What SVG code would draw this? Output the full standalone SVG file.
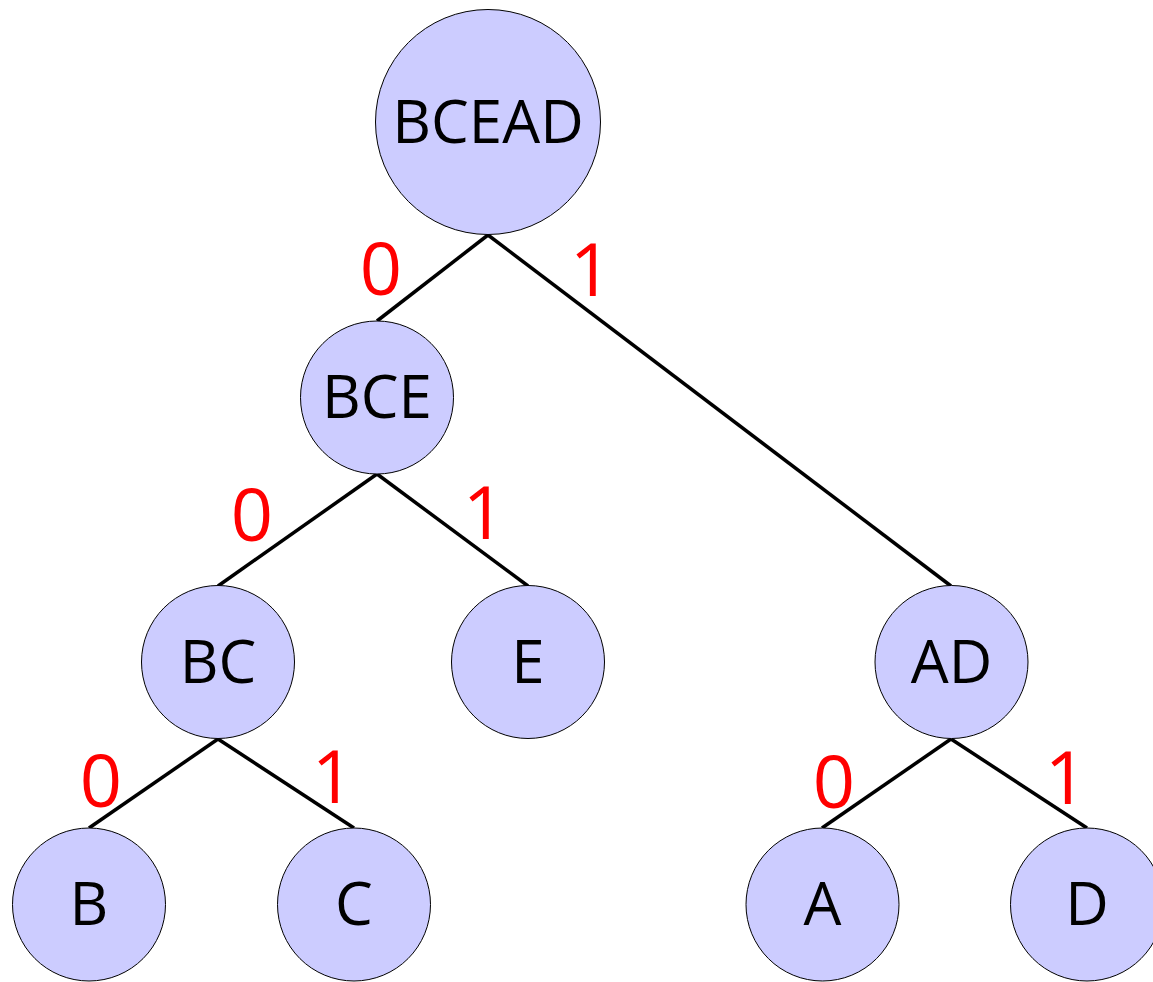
<svg xmlns="http://www.w3.org/2000/svg" width="1153" height="982" viewBox="0 0 1153 982">
  <style>
    .node circle { fill: #ccccff; stroke: #000; stroke-width: 1; }
    .node text { font-family: "Open Sans", "Noto Sans", sans-serif; font-size: 60px; fill: #000; text-anchor: middle; }
    .edges line { stroke: #000; stroke-width: 3.5; }
    .bit { font-family: "Open Sans", "Noto Sans", sans-serif; font-size: 74px; fill: #ff0000; text-anchor: middle; }
  </style>
  <rect width="1153" height="982" fill="#fff"/>

  <!-- tree edges, drawn under the nodes -->
  <g id="edges" class="edges">
    <line x1="488" y1="235" x2="377" y2="321"/>
    <line x1="488" y1="235" x2="951" y2="586"/>
    <line x1="377" y1="474" x2="218" y2="586"/>
    <line x1="377" y1="474" x2="528" y2="586"/>
    <line x1="218" y1="739" x2="89" y2="828"/>
    <line x1="218" y1="739" x2="354" y2="828"/>
    <line x1="951" y1="739" x2="822" y2="828"/>
    <line x1="951" y1="739" x2="1087" y2="828"/>
  </g>

  <!-- branch bit labels -->
  <g id="bits">
    <text class="bit" x="381" y="295">0</text>
    <text class="bit" x="591" y="296">1</text>
    <text class="bit" x="252" y="541">0</text>
    <text class="bit" x="484" y="539">1</text>
    <text class="bit" x="101" y="807">0</text>
    <text class="bit" x="333" y="803">1</text>
    <text class="bit" x="834" y="808">0</text>
    <text class="bit" x="1066" y="804">1</text>
  </g>

  <g id="node-BCEAD" class="node"><circle cx="488" cy="122" r="112.5"/><text x="488" y="143">BCEAD</text></g>
  <g id="node-BCE" class="node"><circle cx="377" cy="397.5" r="76.5"/><text x="377" y="418">BCE</text></g>
  <g id="node-BC" class="node"><circle cx="218" cy="662" r="76.5"/><text x="218" y="683">BC</text></g>
  <g id="node-E" class="node"><circle cx="528" cy="662" r="76.5"/><text x="528" y="683">E</text></g>
  <g id="node-AD" class="node"><circle cx="951.5" cy="662" r="76.5"/><text x="951.5" y="683">AD</text></g>
  <g id="node-B" class="node"><circle cx="89" cy="904.5" r="76.5"/><text x="89" y="925">B</text></g>
  <g id="node-C" class="node"><circle cx="354" cy="904.5" r="76.5"/><text x="354" y="925">C</text></g>
  <g id="node-A" class="node"><circle cx="822.5" cy="904.5" r="76.5"/><text x="822.5" y="925">A</text></g>
  <g id="node-D" class="node"><circle cx="1087" cy="904.5" r="76.5"/><text x="1087" y="925">D</text></g>
</svg>
